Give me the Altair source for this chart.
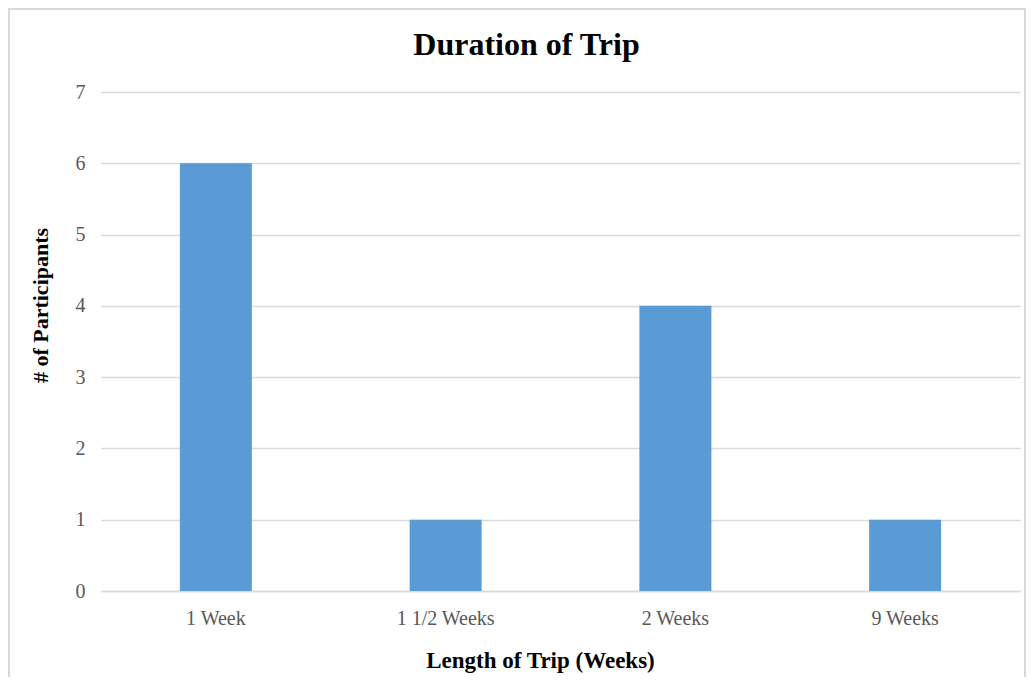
import altair as alt
import pandas as pd

categories = ["1 Week", "1 1/2 Weeks", "2 Weeks", "9 Weeks"]
participants = [6, 1, 4, 1]

df = pd.DataFrame({"duration": categories, "count": participants})

FONT = "Liberation Serif"

bars = alt.Chart(df).mark_bar(color="#5B9BD5", size=72).encode(
    x=alt.X("duration:N", sort=categories,
            scale=alt.Scale(paddingInner=0.69, paddingOuter=0.345),
            axis=alt.Axis(title="Length of Trip (Weeks)", labelAngle=0,
                          labelFont=FONT, labelFontSize=20, labelColor="#595959",
                          labelPadding=17, ticks=False, domain=True,
                          domainColor="#d9d9d9", domainWidth=1.5,
                          titleFont=FONT, titleFontSize=23, titleFontWeight="bold",
                          titleColor="#000000", titleX=439, titleY=69,
                          titleBaseline="middle", titleAlign="center")),
    y=alt.Y("count:Q", scale=alt.Scale(domain=[0, 7]),
            axis=alt.Axis(title="# of Participants", values=list(range(8)),
                          labelFont=FONT, labelFontSize=20, labelColor="#595959",
                          labelPadding=16, ticks=False, domain=False,
                          grid=True, gridColor="#d9d9d9", gridWidth=1.5,
                          titleFont=FONT, titleFontSize=22, titleFontWeight="bold",
                          titleColor="#000000", titleAngle=-90, titleX=-61, titleY=213,
                          titleBaseline="middle", titleAlign="center")),
)

frame_df = pd.DataFrame({"k": [0]})
frame = alt.Chart(frame_df).mark_rect(fill=None, stroke="#d9d9d9", strokeWidth=2).encode(
    x=alt.value(-92), x2=alt.value(924), y=alt.value(-83), y2=alt.value(600)
)

chart = alt.layer(frame, bars).properties(
    width=919, height=499,
    padding={"left": 93, "top": 84, "right": 6, "bottom": 86},
    autosize=alt.AutoSizeParams(type="none"),
    title=alt.TitleParams("Duration of Trip", font=FONT, fontSize=32, fontWeight="bold",
                          color="#000000", anchor="middle", dx=-34, offset=-54),
).configure_view(stroke=None)

chart.save("out.html", embed_options={"renderer": "svg", "actions": False})
